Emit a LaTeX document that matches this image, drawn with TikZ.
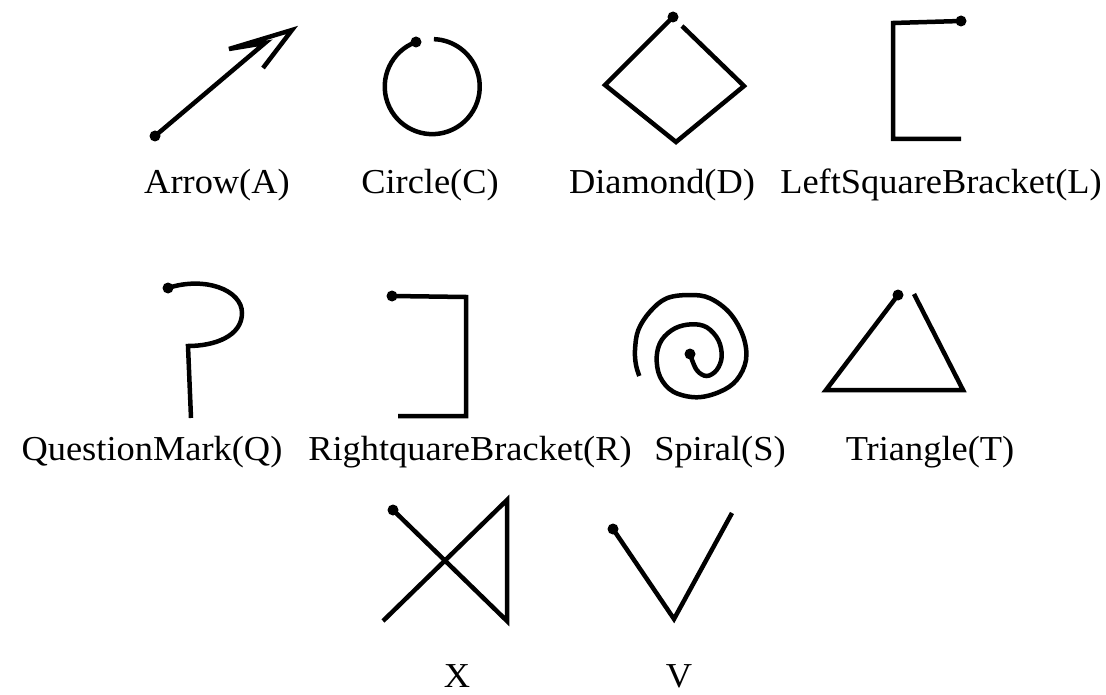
\documentclass[tikz,border=0pt]{standalone}
\usepackage{fontspec}
\setmainfont{Liberation Serif}[FakeStretch=1.04]
\begin{document}
\begin{tikzpicture}[x=1pt,y=-1pt,
  stroke/.style={line width=4.5pt,line join=miter,line cap=butt},
  startdot/.style={fill=black,circle,inner sep=0pt,minimum size=11pt},
  lbl/.style={anchor=base,inner sep=0pt,font=\fontsize{35}{38}\selectfont}]
\useasboundingbox (0,0) rectangle (1106,695);
% Arrow
\node[startdot] (a0) at (155,136) {};
\coordinate (a1) at (265,43);
\coordinate (a2) at (229,49);
\coordinate (a3) at (292,30);
\coordinate (a4) at (263,68);
\draw[stroke] (a0.center) -- (a1) -- (a2) -- (a3) -- (a4);
\node[lbl] (la) at (217,194) {Arrow(A)};
% Circle
\node[startdot] (c0) at (416,42) {};
\draw[stroke] (c0.center) arc[start angle=-110,end angle=-448,radius=47.5];
\node[lbl] (lc) at (430,194) {Circle(C)};
% Diamond
\node[startdot] (d0) at (673,17) {};
\coordinate (d1) at (605,85);
\coordinate (d2) at (676,142);
\coordinate (d3) at (744,86);
\coordinate (d4) at (682,26);
\draw[stroke] (d0.center) -- (d1) -- (d2) -- (d3) -- (d4);
\node[lbl] (ld) at (662,194) {Diamond(D)};
% Left bracket
\node[startdot] (l0) at (961,21) {};
\coordinate (l1) at (893,23);
\coordinate (l2) at (893,139);
\coordinate (l3) at (961,139);
\draw[stroke] (l0.center) -- (l1) -- (l2) -- (l3);
\node[lbl] (ll) at (941,194) {LeftSquareBracket(L)};
% Question mark
\node[startdot] (q0) at (168,288) {};
\coordinate (q1) at (188,346);
\coordinate (q2) at (191,418);
\draw[stroke] (q0.center) .. controls (205,276) and (242,290) .. (242,313)
  .. controls (242,336) and (215,346) .. (q1) -- (q2);
\node[lbl] (lq) at (152,460) {QuestionMark(Q)};
% Right bracket
\node[startdot] (r0) at (392,296) {};
\coordinate (r1) at (466,297);
\coordinate (r2) at (466,416);
\coordinate (r3) at (398,416);
\draw[stroke] (r0.center) -- (r1) -- (r2) -- (r3);
\node[lbl] (lr) at (470,460) {RightquareBracket(R)};
% Spiral
\node[startdot] (s0) at (690,354) {};
\draw[stroke] plot[smooth,tension=0.6] coordinates {(690,354) (696.7,370) (706.7,376) (716.7,370) (721.7,356.7) (718.3,340) (706.7,327.3) (691.7,324.3) (675,328.3) (661.7,340) (656.7,356.7) (660,376.7) (673.3,391.7) (696.7,397.3) (720,391.7) (736.7,380) (746,360) (743.3,336.7) (730,313.3) (710,298.3) (690,295) (666.7,298.3) (650,311.7) (638.3,330) (635,350) (636,365) (639.3,376)};
\node[lbl] (ls) at (720,460) {Spiral(S)};
% Triangle
\node[startdot] (t0) at (898,295) {};
\coordinate (t1) at (826,390);
\coordinate (t2) at (963,390);
\coordinate (t3) at (914,294);
\draw[stroke] (t0.center) -- (t1) -- (t2) -- (t3);
\node[lbl] (lt) at (930,460) {Triangle(T)};
% X
\node[startdot] (x0) at (393,510) {};
\coordinate (x1) at (507,621);
\coordinate (x2) at (507,500);
\coordinate (x3) at (383,621);
\draw[stroke] (x0.center) -- (x1) -- (x2) -- (x3);
\node[lbl] (lx) at (457,687) {X};
% V
\node[startdot] (v0) at (613,529) {};
\coordinate (v1) at (674,619);
\coordinate (v2) at (732,513);
\draw[stroke] (v0.center) -- (v1) -- (v2);
\node[lbl] (lv) at (679,687) {V};
\end{tikzpicture}
\end{document}
